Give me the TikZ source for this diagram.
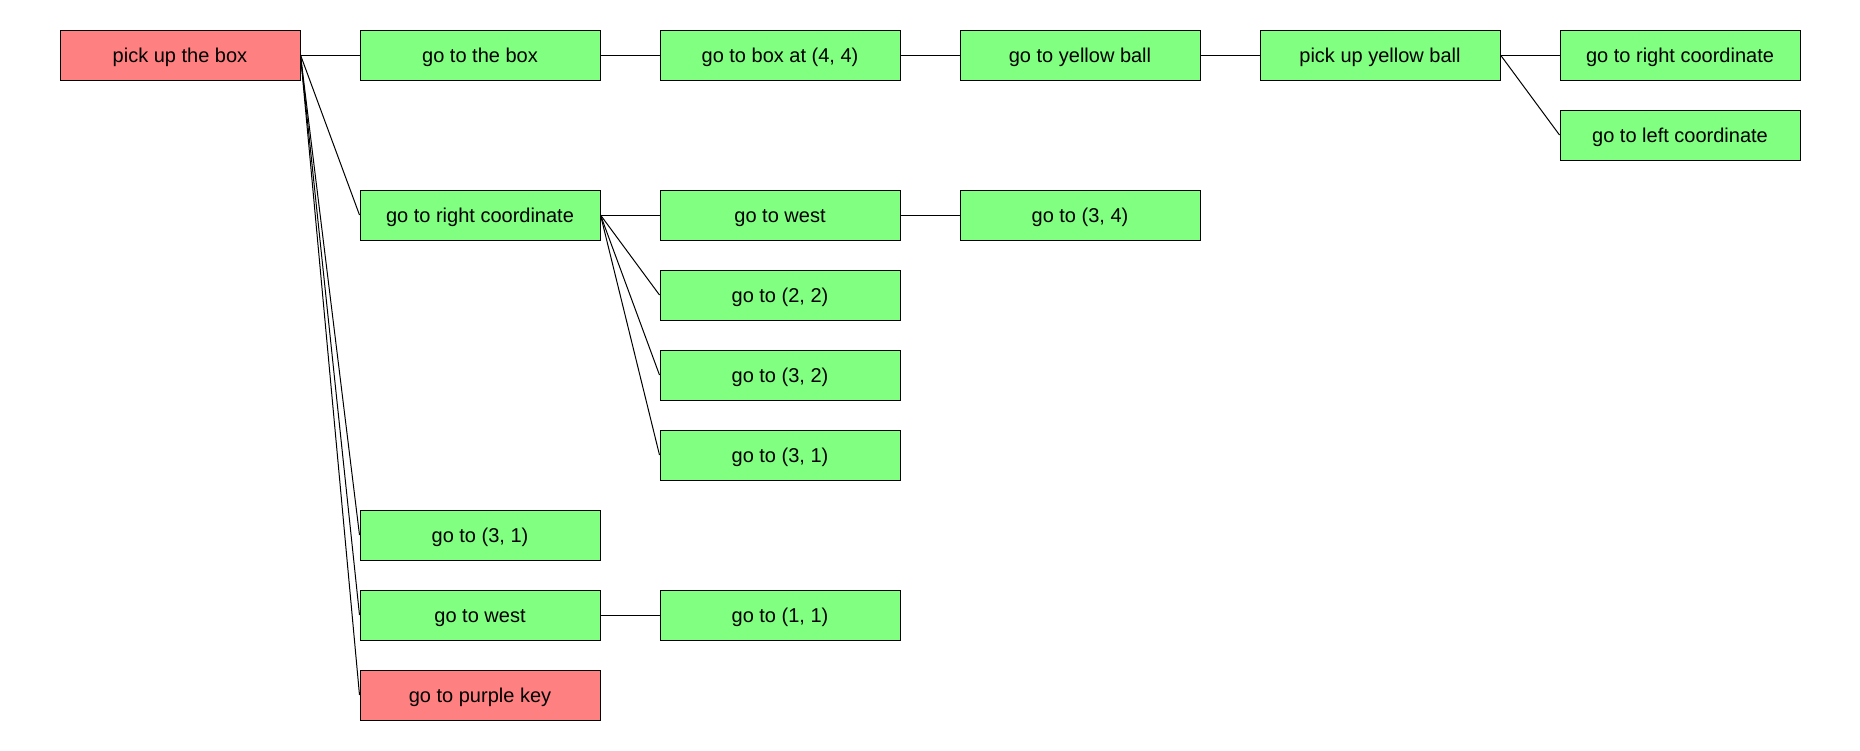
\documentclass[tikz,border=0pt]{standalone}
\usepackage{fontspec}
\setmainfont{Liberation Sans}
\definecolor{nodered}{HTML}{FF8080}
\definecolor{nodegreen}{HTML}{80FF80}
\begin{document}
\begin{tikzpicture}[x=1pt,y=1pt,
  box/.style={draw=black, line width=1pt, minimum width=240pt, minimum height=50pt,
    inner sep=0pt, text height=14.4pt, text depth=0pt,
    font=\fontsize{20}{24}\selectfont, text=black},
  redbox/.style={box, fill=nodered},
  greenbox/.style={box, fill=nodegreen},
  link/.style={draw=black, line width=1pt}]
\useasboundingbox (0,0) rectangle (1860,-750);
% row 0
\node[redbox]   (root) at (180,-55)  {pick up the box};
\node[greenbox] (a1)   at (480,-55)  {go to the box};
\node[greenbox] (a2)   at (780,-55)  {go to box at (4, 4)};
\node[greenbox] (a3)   at (1080,-55) {go to yellow ball};
\node[greenbox] (a4)   at (1380,-55) {pick up yellow ball};
\node[greenbox] (a5)   at (1680,-55) {go to right coordinate};
\node[greenbox] (a6)   at (1680,-135) {go to left coordinate};
% right coordinate branch
\node[greenbox] (b1)   at (480,-215) {go to right coordinate};
\node[greenbox] (b2)   at (780,-215) {go to west};
\node[greenbox] (b3)   at (1080,-215) {go to (3, 4)};
\node[greenbox] (b4)   at (780,-295) {go to (2, 2)};
\node[greenbox] (b5)   at (780,-375) {go to (3, 2)};
\node[greenbox] (b6)   at (780,-455) {go to (3, 1)};
% lower children
\node[greenbox] (c1)   at (480,-535) {go to (3, 1)};
\node[greenbox] (c2)   at (480,-615) {go to west};
\node[greenbox] (c3)   at (780,-615) {go to (1, 1)};
\node[redbox]   (c4)   at (480,-695) {go to purple key};
% connectors
\draw[link] (root.east) -- (a1.west);
\draw[link] (a1.east) -- (a2.west);
\draw[link] (a2.east) -- (a3.west);
\draw[link] (a3.east) -- (a4.west);
\draw[link] (a4.east) -- (a5.west);
\draw[link] (a4.east) -- (a6.west);
\draw[link] (root.east) -- (b1.west);
\draw[link] (b1.east) -- (b2.west);
\draw[link] (b2.east) -- (b3.west);
\draw[link] (b1.east) -- (b4.west);
\draw[link] (b1.east) -- (b5.west);
\draw[link] (b1.east) -- (b6.west);
\draw[link] (root.east) -- (c1.west);
\draw[link] (root.east) -- (c2.west);
\draw[link] (c2.east) -- (c3.west);
\draw[link] (root.east) -- (c4.west);
\end{tikzpicture}
\end{document}
